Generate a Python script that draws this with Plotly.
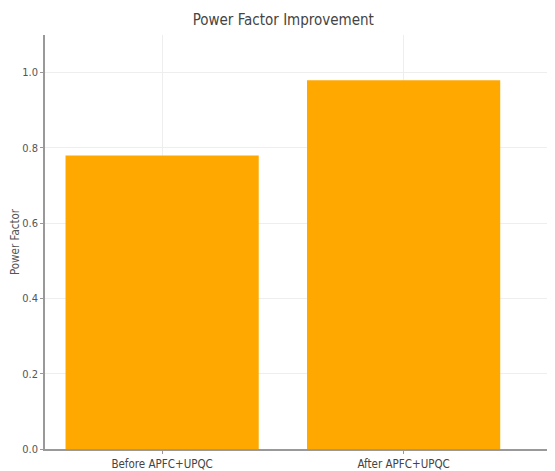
import plotly.graph_objects as go

categories = ["Before APFC+UPQC", "After APFC+UPQC"]
power_factor = [0.78, 0.98]
y_ticks = [0.0, 0.2, 0.4, 0.6, 0.8, 1.0]
y_tick_labels = ["0.0", "0.2", "0.4", "0.6", "0.8", "1.0"]

fig = go.Figure(go.Bar(
    x=[0, 1], y=power_factor, width=0.8,
    marker=dict(color="#FFA800", line=dict(width=0)),
))

fig.update_layout(
    width=555, height=471,
    margin=dict(l=37, r=0, t=27, b=30, autoexpand=False),
    paper_bgcolor="white", plot_bgcolor="white",
    font=dict(family="DejaVu Sans Condensed, DejaVu Sans", size=11, color="#555555"),
    title=dict(text="Power Factor Improvement", x=0.496, xanchor="center",
               y=0.975, yanchor="middle", font=dict(size=15, color="#444444")),
    showlegend=False,
    bargap=0.2,
)
fig.update_xaxes(
    range=[-0.485, 1.66], tickmode="array", tickvals=[0, 1], ticktext=categories,
    showgrid=True, gridcolor="#EEEEEE", gridwidth=1,
    showline=True, linecolor="#999999", linewidth=1.5,
    ticks="outside", ticklen=3, tickcolor="#999999", zeroline=False,
    tickfont=dict(size=11.5, color="#444444"), automargin=False,
)
fig.update_yaxes(
    range=[0, 1.1], tickmode="array", tickvals=y_ticks, ticktext=y_tick_labels,
    showgrid=True, gridcolor="#EEEEEE", gridwidth=1,
    showline=True, linecolor="#999999", linewidth=1.5,
    ticks="outside", ticklen=3, tickcolor="#999999", zeroline=False,
    title=dict(text="Power Factor", font=dict(size=11.5, color="#555555"), standoff=6),
    tickfont=dict(size=11, color="#555555"), automargin=False,
)

fig.write_html("out.html")
